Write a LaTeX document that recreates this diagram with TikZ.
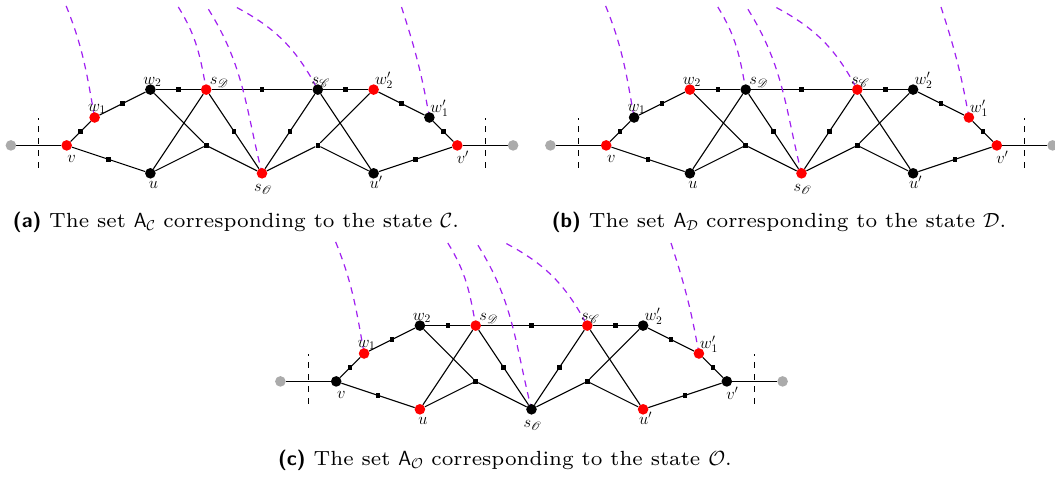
\RequirePackage{fix-cm}
\documentclass[tikz,border=0pt]{standalone}
\usepackage{fontspec}
\usepackage{mathrsfs}
\newfontfamily\capfont{lmroman7-regular.otf}
\newfontfamily\caplabfont{lmsans10-bold.otf}
\pgfdeclarelayer{bg}
\pgfsetlayers{bg,main}
\definecolor{purp}{RGB}{160,32,240}
\tikzset{
  gdot/.style={circle, inner sep=0pt, minimum size=10.6pt, draw=none},
  gsq/.style={rectangle, fill=black, inner sep=0pt, minimum size=4.6pt},
  gedge/.style={line width=1.1pt, black},
  purparc/.style={purp, line width=1.2pt, dash pattern=on 6.5pt off 5.5pt},
  tickmark/.style={line width=1.1pt, dash pattern=on 6pt off 6pt},
  glab/.style={anchor=base, inner sep=0pt, font=\fontsize{16.5}{19}\selectfont},
  captext/.style={anchor=base, inner sep=0pt, font=\capfont\fontsize{20.5}{24}\selectfont},
}
\newcommand\drawgraph[2]{%
  \foreach \n/\px/\py in {v/-3.5/0.5, w1/-3/1, w2/-2/1.5, sD/-1/1.5, sC/1/1.5, w2p/2/1.5, w1p/3/1, vp/3.5/0.5, u/-2/0, sO/0/0, up/2/0}
    \coordinate (#1\n-p) at (\px,\py);
  \foreach \n/\c in {#2}
    \node[gdot, fill=\c] (#1\n) at (#1\n-p) {};
  \node[gdot, fill=black!33] (#1gl) at (-4.5,0.5) {};
  \node[gdot, fill=black!33] (#1gr) at (4.5,0.5) {};
  \node[gsq] (#1x1) at (-1,0.5) {};
  \node[gsq] (#1x2) at (1,0.5) {};
  \coordinate (#1t1) at (-4,0.1);
  \coordinate (#1t2) at (-4,1.0);
  \coordinate (#1t3) at (4,0.1);
  \coordinate (#1t4) at (4,1.0);
  \coordinate (#1h1) at (-3.51,3.0);
  \coordinate (#1h2) at (-1.5,2.98);
  \coordinate (#1h3) at (-0.96,2.94);
  \coordinate (#1h4) at (-0.45,2.97);
  \coordinate (#1h5) at (2.5,2.98);
  \begin{pgfonlayer}{bg}
    \draw[gedge] (#1gl) -- (#1v);
    \draw[gedge] (#1vp) -- (#1gr);
    \draw[gedge] (#1v) -- node[gsq]{} (#1w1);
    \draw[gedge] (#1w1) -- node[gsq]{} (#1w2);
    \draw[gedge] (#1w2) -- node[gsq]{} (#1sD);
    \draw[gedge] (#1sD) -- node[gsq]{} (#1sC);
    \draw[gedge] (#1sC) -- node[gsq]{} (#1w2p);
    \draw[gedge] (#1w2p) -- node[gsq]{} (#1w1p);
    \draw[gedge] (#1w1p) -- node[gsq]{} (#1vp);
    \draw[gedge] (#1v) -- node[gsq]{} (#1u);
    \draw[gedge] (#1up) -- node[gsq]{} (#1vp);
    \draw[gedge] (#1w2) -- (#1x1);
    \draw[gedge] (#1u) -- (#1x1);
    \draw[gedge] (#1x1) -- (#1sO);
    \draw[gedge] (#1u) -- (#1sD);
    \draw[gedge] (#1sD) -- node[gsq]{} (#1sO);
    \draw[gedge] (#1w2p) -- (#1x2);
    \draw[gedge] (#1up) -- (#1x2);
    \draw[gedge] (#1x2) -- (#1sO);
    \draw[gedge] (#1up) -- (#1sC);
    \draw[gedge] (#1sC) -- node[gsq]{} (#1sO);
    \draw[tickmark] (#1t1) -- (#1t2);
    \draw[tickmark] (#1t3) -- (#1t4);
    \draw[purparc] (#1h1) to[out=-68,in=100] (#1w1.center);
    \draw[purparc] (#1h2) to[out=-58,in=100] (#1sD.center);
    \draw[purparc] (#1h3) to[out=-58,in=104] (#1sO.center);
    \draw[purparc] (#1h4) to[out=-28,in=118] (#1sC.center);
    \draw[purparc] (#1h5) to[out=-72,in=100] (#1w1p.center);
  \end{pgfonlayer}
  \node[glab] (#1lw1) at ([shift={(2.5pt,6.5pt)}]#1w1.center) {$w_1$};
  \node[glab] (#1lw2) at ([shift={(2pt,5.5pt)}]#1w2.center) {$w_2$};
  \node[glab] (#1lsD) at ([shift={(13pt,5pt)}]#1sD.center) {$s_{\mathscr{D}}$};
  \node[glab] (#1lsC) at ([shift={(3pt,5pt)}]#1sC.center) {$s_{\mathscr{C}}$};
  \node[glab] (#1lw2p) at ([shift={(10.5pt,5.5pt)}]#1w2p.center) {$w_2'$};
  \node[glab] (#1lw1p) at ([shift={(10pt,5pt)}]#1w1p.center) {$w_1'$};
  \node[glab] (#1lv) at ([shift={(5pt,-17pt)}]#1v.center) {$v$};
  \node[glab] (#1lu) at ([shift={(3pt,-15.5pt)}]#1u.center) {$u$};
  \node[glab] (#1lsO) at ([shift={(1pt,-18pt)}]#1sO.center) {$s_{\mathscr{O}}$};
  \node[glab] (#1lup) at ([shift={(2.5pt,-15.5pt)}]#1up.center) {$u'$};
  \node[glab] (#1lvp) at ([shift={(5.5pt,-18pt)}]#1vp.center) {$v'$};
}
\begin{document}
\begin{tikzpicture}[x=1pt,y=-1pt]
\useasboundingbox (0,0) rectangle (1055,477);
\begin{scope}[shift={(262,173.3)}, x=55.8pt, y=55.8pt]
  \drawgraph{a}{v/red, w1/red, w2/black, sD/red, sC/black, w2p/red, w1p/black, vp/red, u/black, sO/red, up/black}
\end{scope}
\begin{scope}[shift={(801.5,173.3)}, x=55.8pt, y=55.8pt]
  \drawgraph{b}{v/red, w1/black, w2/red, sD/black, sC/red, w2p/black, w1p/red, vp/red, u/black, sO/red, up/black}
\end{scope}
\begin{scope}[shift={(531.5,409.3)}, x=55.8pt, y=55.8pt]
  \drawgraph{c}{v/black, w1/red, w2/black, sD/red, sC/red, w2p/black, w1p/red, vp/black, u/red, sO/black, up/red}
\end{scope}
\node[captext] (capa) at (236,227.5) {{\caplabfont (a)} The set $\mathsf{A}_{\mathcal{C}}$ corresponding to the state $\mathcal{C}$.};
\node[captext] (capb) at (779,227.5) {{\caplabfont (b)} The set $\mathsf{A}_{\mathcal{D}}$ corresponding to the state $\mathcal{D}$.};
\node[captext] (capc) at (505,465.7) {{\caplabfont (c)} The set $\mathsf{A}_{\mathcal{O}}$ corresponding to the state $\mathcal{O}$.};
\end{tikzpicture}
\end{document}
